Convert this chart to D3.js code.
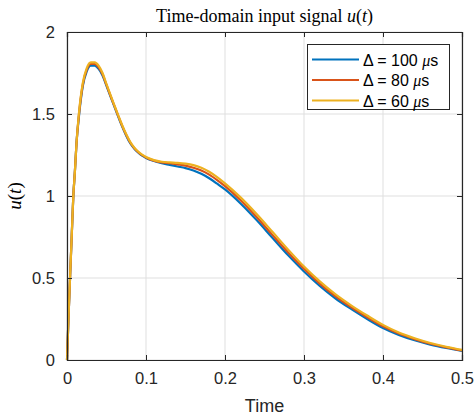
<!DOCTYPE html>
<html><head><meta charset="utf-8">
<script src="https://cdn.jsdelivr.net/npm/d3@7"></script>
<style>body{margin:0;background:#fff}svg{display:block}</style>
</head><body>
<script>
const tValues = [0,0.002,0.004,0.006,0.008,0.01,0.012,0.015,0.02,0.025,0.03,0.035,0.04,0.045,0.05,0.055,0.06,0.065,0.07,0.075,0.08,0.085,0.09,0.095,0.1,0.11,0.12,0.13,0.14,0.15,0.16,0.17,0.18,0.19,0.2,0.22,0.24,0.26,0.28,0.3,0.32,0.34,0.36,0.38,0.4,0.42,0.44,0.46,0.48,0.5];
const u100 = [0,0.27,0.52,0.76,1.0,1.15,1.32,1.48,1.67,1.76,1.795,1.795,1.775,1.735,1.672,1.608,1.545,1.482,1.422,1.368,1.322,1.29,1.265,1.246,1.232,1.213,1.2,1.19,1.18,1.17,1.155,1.135,1.108,1.075,1.04,0.953,0.853,0.745,0.638,0.54,0.452,0.375,0.31,0.25,0.195,0.153,0.12,0.094,0.073,0.055];
const u80  = [0,0.27,0.52,0.76,1.0,1.15,1.32,1.49,1.68,1.77,1.805,1.805,1.785,1.742,1.677,1.612,1.549,1.486,1.426,1.372,1.326,1.293,1.268,1.249,1.235,1.216,1.205,1.2,1.193,1.185,1.172,1.155,1.13,1.097,1.06,0.973,0.872,0.763,0.656,0.556,0.466,0.388,0.321,0.261,0.205,0.161,0.127,0.099,0.077,0.058];
const u60  = [0,0.27,0.52,0.76,1.0,1.15,1.32,1.5,1.69,1.78,1.815,1.815,1.795,1.75,1.682,1.616,1.553,1.49,1.43,1.376,1.33,1.296,1.271,1.252,1.238,1.219,1.209,1.205,1.202,1.197,1.188,1.172,1.148,1.115,1.077,0.99,0.89,0.782,0.673,0.57,0.479,0.4,0.332,0.271,0.214,0.168,0.133,0.104,0.081,0.062];
const seriesNames = ["100","80","60"];
const seriesColors = ["#0072BD","#D95319","#EDB120"];
const xTicks = [0,0.1,0.2,0.3,0.4,0.5];
const yTicks = [0,0.5,1,1.5,2];

const W=475,H=416;
const m={l:67,r:13,t:32,b:56};
const svg=d3.select("body").append("svg").attr("width",W).attr("height",H);
const x=d3.scaleLinear().domain([0,0.5]).range([m.l,W-m.r]);
const y=d3.scaleLinear().domain([0,2]).range([H-m.b,m.t]);
const axisCol="#262626";
const sans="'Liberation Sans', Arial, sans-serif";
const serif="'Liberation Serif', 'Times New Roman', serif";

// grid
const g=svg.append("g");
g.selectAll(".gx").data(xTicks).join("line").attr("x1",d=>x(d)).attr("x2",d=>x(d)).attr("y1",y(0)).attr("y2",y(2)).attr("stroke","#dfdfdf").attr("stroke-width",1);
g.selectAll(".gy").data(yTicks).join("line").attr("y1",d=>y(d)).attr("y2",d=>y(d)).attr("x1",x(0)).attr("x2",x(0.5)).attr("stroke","#dfdfdf").attr("stroke-width",1);

// lines
const line=d3.line().x((d,i)=>x(tValues[i])).y(d=>y(d)).curve(d3.curveMonotoneX);
[u100,u80,u60].forEach((s,k)=>{
  svg.append("path").attr("d",line(s)).attr("fill","none").attr("stroke",seriesColors[k]).attr("stroke-width",2.2).attr("stroke-linejoin","round");
});

// axes
const tk=-5;
const ax=svg.append("g").attr("transform",`translate(0,${y(0)})`).call(d3.axisBottom(x).tickValues(xTicks).tickSize(tk).tickPadding(12).tickFormat(d3.format("")));
const axT=svg.append("g").attr("transform",`translate(0,${y(2)})`).call(d3.axisTop(x).tickValues(xTicks).tickSize(tk).tickFormat(""));
const ay=svg.append("g").attr("transform",`translate(${x(0)},0)`).call(d3.axisLeft(y).tickValues(yTicks).tickSize(tk).tickPadding(12).tickFormat(d3.format("")));
const ayR=svg.append("g").attr("transform",`translate(${x(0.5)},0)`).call(d3.axisRight(y).tickValues(yTicks).tickSize(tk).tickFormat(""));
[ax,axT,ay,ayR].forEach(a=>{
  a.select(".domain").attr("stroke",axisCol).attr("stroke-width",1.2);
  a.selectAll(".tick line").attr("stroke",axisCol).attr("stroke-width",1);
  a.selectAll("text").attr("fill",axisCol).style("font-family",sans).style("font-size","16.5px");
});
ay.selectAll("text").attr("dy","0.35em");

// title
const tt=svg.append("text").attr("x",(x(0)+x(0.5))/2).attr("y",22).attr("text-anchor","middle").style("font-family",serif).style("font-size","18px").attr("fill","#000");
tt.append("tspan").text("Time-domain input signal ");
tt.append("tspan").attr("font-style","italic").text("u");
tt.append("tspan").text("(");
tt.append("tspan").attr("font-style","italic").text("t");
tt.append("tspan").text(")");

// x label
svg.append("text").attr("x",(x(0)+x(0.5))/2).attr("y",412).attr("text-anchor","middle").style("font-family",sans).style("font-size","18px").attr("fill",axisCol).text("Time");

// y label
const yl=svg.append("text").attr("transform",`translate(21,${(y(0)+y(2))/2}) rotate(-90)`).attr("text-anchor","middle").style("font-family",serif).style("font-size","19px").attr("fill","#000");
yl.append("tspan").attr("font-style","italic").text("u");
yl.append("tspan").text("(");
yl.append("tspan").attr("font-style","italic").text("t");
yl.append("tspan").text(")");

// legend
const lg=svg.append("g");
lg.append("rect").attr("x",307.5).attr("y",44.5).attr("width",142).attr("height",65).attr("fill","#fff").attr("stroke",axisCol).attr("stroke-width",1);
seriesNames.forEach((n,i)=>{
  const yy=59.5+i*20.5;
  lg.append("line").attr("x1",312).attr("x2",359).attr("y1",yy).attr("y2",yy).attr("stroke",seriesColors[i]).attr("stroke-width",2.2);
  const t=lg.append("text").attr("x",363).attr("y",yy+6).style("font-family",sans).style("font-size","16px").attr("fill","#000");
  t.append("tspan").text("\u0394 = "+n+" ");
  t.append("tspan").style("font-family",serif).attr("font-style","italic").text("\u03bc");
  t.append("tspan").text("s");
});
</script>
</body></html>
